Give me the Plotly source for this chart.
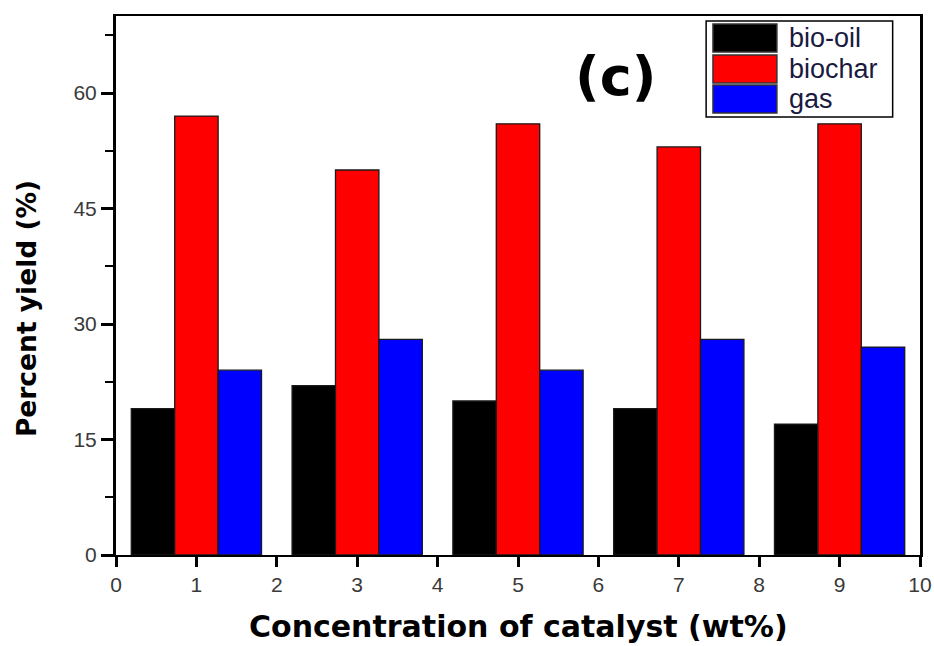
import plotly.graph_objects as go

concentration = [1, 3, 5, 7, 9]
bio_oil = [19, 22, 20, 19, 17]
biochar = [57, 50, 56, 53, 56]
gas = [24, 28, 24, 28, 27]
series_names = ["bio-oil", "biochar", "gas"]
series_colors = ["#000000", "#ff0000", "#0000ff"]
x_ticks = list(range(0, 11))
y_ticks = [0, 15, 30, 45, 60]

BAR_W = 0.54
offsets = [-1.5 * BAR_W, -0.5 * BAR_W, 0.5 * BAR_W]

fig = go.Figure()
for name, vals, col, off in zip(series_names, [bio_oil, biochar, gas], series_colors, offsets):
    fig.add_trace(go.Bar(
        x=concentration, y=vals, name=name,
        width=BAR_W, offset=off,
        marker=dict(color=col, line=dict(color="#1a1a1a", width=1.3)),
        showlegend=False,
    ))

fig.update_layout(
    width=934, height=646,
    margin=dict(l=116, r=14, t=16, b=91),
    paper_bgcolor="white", plot_bgcolor="white",
    barmode="overlay",
    font=dict(family="Liberation Sans, Arial, sans-serif", color="#333333"),
)
fig.update_xaxes(
    range=[0, 10], tickvals=x_ticks, ticktext=[str(v) for v in x_ticks],
    showgrid=False, zeroline=False, automargin=False,
    showline=True, linecolor="black", linewidth=2, mirror=True,
    ticks="outside", ticklen=10, tickwidth=2.5, tickcolor="black",
    tickfont=dict(size=21, color="#3a3a3a"),
)
fig.update_yaxes(
    range=[0, 70], tickvals=y_ticks, ticktext=[str(v) for v in y_ticks],
    showgrid=False, zeroline=False, automargin=False,
    showline=True, linecolor="black", linewidth=3, mirror=True,
    ticks="outside", ticklen=12, tickwidth=2.5, tickcolor="black",
    tickfont=dict(size=21, color="#3a3a3a"),
    minor=dict(dtick=7.5, tick0=0, ticks="outside", ticklen=8, tickwidth=2, tickcolor="black", showgrid=False),
)

# axis titles
fig.add_annotation(text="<b>Concentration of catalyst (wt%)</b>", xref="paper", yref="paper",
                   x=0.5, y=-0.132, xanchor="center", yanchor="middle", showarrow=False,
                   font=dict(family="DejaVu Sans", size=30, color="black"))
fig.add_annotation(text="<b>Percent yield (%)</b>", xref="paper", yref="paper",
                   x=-0.112, y=0.458, xanchor="center", yanchor="middle", showarrow=False,
                   textangle=-90, font=dict(family="DejaVu Sans", size=26.5, color="black"))
# panel label
fig.add_annotation(text="<b>(c)</b>", xref="paper", yref="paper",
                   x=0.621, y=0.887, xanchor="center", yanchor="middle", showarrow=False,
                   font=dict(family="DejaVu Sans", size=54, color="black"))

# custom legend
fig.add_shape(type="rect", xref="paper", yref="paper", x0=0.734, x1=0.966, y0=0.8126, y1=0.9907,
              line=dict(color="black", width=1.5), fillcolor="white", layer="above")
rows = [(0.9852, 0.9332, 0.959), (0.9276, 0.8757, 0.9017), (0.872, 0.820, 0.846)]
for (ya, yb, yc), name, col in zip(rows, series_names, series_colors):
    fig.add_shape(type="rect", xref="paper", yref="paper", x0=0.7425, x1=0.822, y0=yb, y1=ya,
                  line=dict(color="#333333", width=1.5), fillcolor=col, layer="above")
    fig.add_annotation(text=name, xref="paper", yref="paper", x=0.8346, y=yc,
                       xanchor="left", yanchor="middle", showarrow=False,
                       font=dict(family="Liberation Sans, Arial", size=27, color="#1a1a40"))

fig.write_html("out.html")
